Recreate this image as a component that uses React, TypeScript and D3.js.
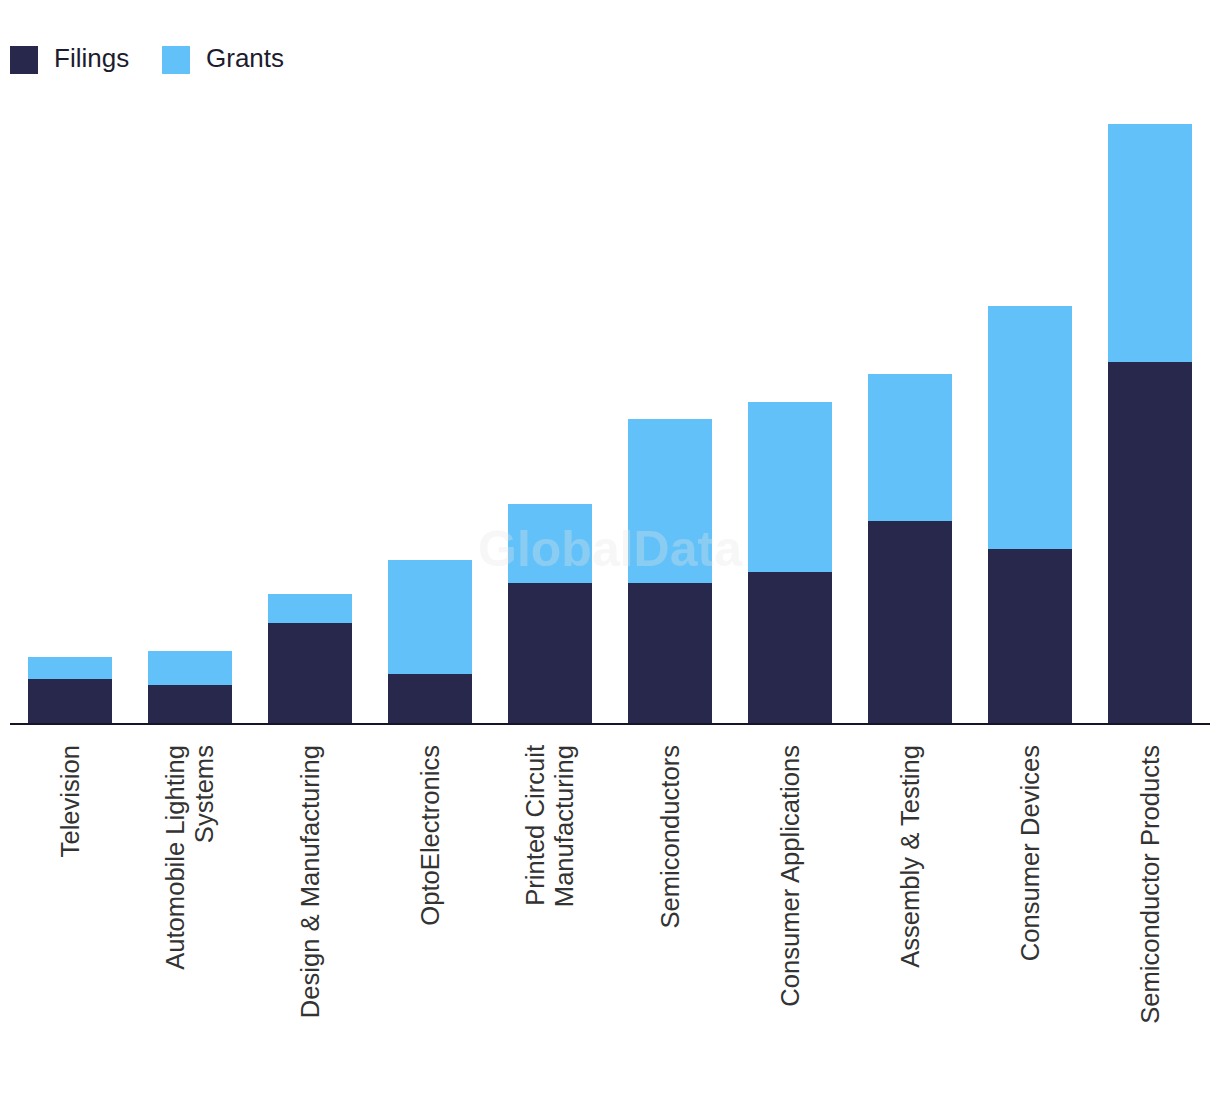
import React, { useEffect, useRef } from "react";
import * as d3 from "d3";

const categories: string[][] = [
  ["Television"],
  ["Automobile Lighting", "Systems"],
  ["Design & Manufacturing"],
  ["OptoElectronics"],
  ["Printed Circuit", "Manufacturing"],
  ["Semiconductors"],
  ["Consumer Applications"],
  ["Assembly & Testing"],
  ["Consumer Devices"],
  ["Semiconductor Products"],
];
const filings = [44, 38, 100, 49, 140, 140, 151, 202, 174, 361];
const grants = [22, 34, 29, 114, 79, 164, 170, 147, 243, 238];
const seriesNames = ["Filings", "Grants"];
const colors = ["#27284b", "#62c1f8"];

const W = 1220;
const H = 1094;

export default function App() {
  const ref = useRef<SVGSVGElement>(null);
  useEffect(() => {
    const svg = d3.select(ref.current);
    svg.selectAll("*").remove();
    const font = "'Liberation Sans', Arial, sans-serif";
    const baseY = 723;
    const x = d3
      .scaleBand<number>()
      .domain(categories.map((_, i) => i))
      .range([10, 1210])
      .paddingInner(0.3)
      .paddingOuter(0.15);
    const y = d3.scaleLinear().domain([0, 600]).range([baseY, 123]);

    const rows = categories.map((_, i) => ({ i, Filings: filings[i], Grants: grants[i] }));
    const stacked = d3.stack<any>().keys(seriesNames)(rows);

    // legend
    const leg = svg.append("g");
    const legX = [10, 162];
    seriesNames.forEach((s, k) => {
      leg.append("rect").attr("x", legX[k]).attr("y", 46).attr("width", 28).attr("height", 28).attr("fill", colors[k]);
      leg
        .append("text")
        .attr("x", legX[k] + 44)
        .attr("y", 58)
        .attr("dy", "0.35em")
        .attr("font-family", font)
        .attr("font-size", 26)
        .attr("fill", "#1c1c2e")
        .text(s);
    });

    // bars
    stacked.forEach((layer, k) => {
      svg
        .append("g")
        .selectAll("rect")
        .data(layer)
        .join("rect")
        .attr("x", (d: any) => x(d.data.i)!)
        .attr("width", x.bandwidth())
        .attr("y", (d: any) => y(d[1]))
        .attr("height", (d: any) => y(d[0]) - y(d[1]))
        .attr("fill", colors[k]);
    });

    // watermark
    svg
      .append("text")
      .attr("x", 610)
      .attr("y", 548)
      .attr("text-anchor", "middle")
      .attr("dy", "0.35em")
      .attr("font-family", font)
      .attr("font-weight", "bold")
      .attr("font-size", 50)
      .attr("fill", "#e6e6e6")
      .attr("opacity", 0.3)
      .text("GlobalData");

    // axis line
    svg
      .append("line")
      .attr("x1", 10)
      .attr("x2", 1210)
      .attr("y1", baseY + 1)
      .attr("y2", baseY + 1)
      .attr("stroke", "#14142a")
      .attr("stroke-width", 2);

    // labels
    const lineH = 29;
    categories.forEach((lines, i) => {
      const cx = x(i)! + x.bandwidth() / 2;
      const n = lines.length;
      lines.forEach((ln, j) => {
        const off = (j - (n - 1) / 2) * lineH;
        svg
          .append("text")
          .attr("transform", `translate(${cx + off},745) rotate(-90)`)
          .attr("text-anchor", "end")
          .attr("dy", "0.35em")
          .attr("font-family", font)
          .attr("font-size", 25.6)
          .attr("fill", "#333")
          .text(ln);
      });
    });
  }, []);
  return (
    <svg
      ref={ref}
      width={W}
      height={H}
      style={{ position: "absolute", left: 0, top: 0, background: "#fff" }}
    />
  );
}
